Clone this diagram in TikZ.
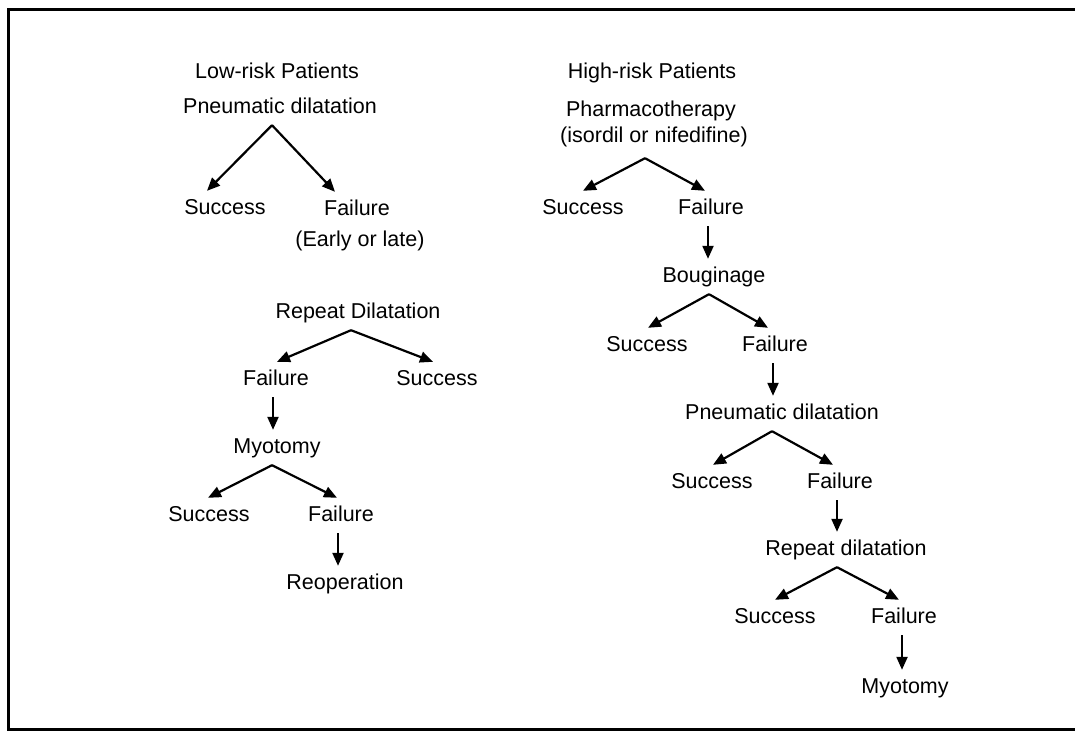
\documentclass[tikz,border=0pt]{standalone}
\usepackage{fontspec}
\setmainfont{Liberation Sans}
\usetikzlibrary{arrows.meta}
\tikzset{
  lbl/.style={anchor=base, inner xsep=0pt, inner ysep=8pt, text height=15pt, text depth=4pt,
    font=\fontsize{21.5}{24}\selectfont},
  arr/.style={line width=2.2pt, -{Triangle[length=13pt,width=11pt]}},
  frame/.style={line width=3pt}
}
\begin{document}
\begin{tikzpicture}[x=1pt,y=-1pt]
\useasboundingbox (0,0) rectangle (1075,731);
\draw[frame] (1075,9) -- (8,9) -- (8,729) -- (1075,729);

% Low-risk tree
\node[lbl] (lrp) at (277,78) {Low-risk Patients};
\node[lbl] (lpd) at (280,113) {Pneumatic dilatation};
\node[lbl] (ls1) at (225,214) {Success};
\node[lbl] (lf1) at (357,215) {Failure};
\node[lbl] (lel) at (360,246) {(Early or late)};
\node[lbl] (lrd) at (358,318) {Repeat Dilatation};
\node[lbl] (lf2) at (276,385) {Failure};
\node[lbl] (ls2) at (437,385) {Success};
\node[lbl] (lmy) at (277,453) {Myotomy};
\node[lbl] (ls3) at (209,521) {Success};
\node[lbl] (lf3) at (341,521) {Failure};
\node[lbl] (lre) at (345,589) {Reoperation};

\draw[arr] ([xshift=-8pt]lpd.south) -- ([xshift=-18pt]ls1.north);
\draw[arr] ([xshift=-8pt]lpd.south) -- ([xshift=-22pt]lf1.north);
\draw[arr] ([xshift=-7pt]lrd.south) -- ([xshift=1pt]lf2.north);
\draw[arr] ([xshift=-7pt]lrd.south) -- ([xshift=-4pt]ls2.north);
\draw[arr] ([xshift=-3pt]lf2.south) -- ([xshift=-3pt]lf2.south |- lmy.north);
\draw[arr] ([xshift=-5pt]lmy.south) -- ([xshift=-1pt]ls3.north);
\draw[arr] ([xshift=-5pt]lmy.south) -- ([xshift=-4pt]lf3.north);
\draw[arr] ([xshift=-3pt]lf3.south) -- ([xshift=-3pt]lf3.south |- lre.north);

% High-risk tree
\node[lbl] (hrp) at (652,78) {High-risk Patients};
\node[lbl] (hph) at (651,116) {Pharmacotherapy};
\node[lbl] (his) at (654,142) {(isordil or nifedifine)};
\node[lbl] (hs1) at (583,214) {Success};
\node[lbl] (hf1) at (711,214) {Failure};
\node[lbl] (hbo) at (714,282) {Bouginage};
\node[lbl] (hs2) at (647,351) {Success};
\node[lbl] (hf2) at (775,351) {Failure};
\node[lbl] (hpd) at (782,419) {Pneumatic dilatation};
\node[lbl] (hs3) at (712,488) {Success};
\node[lbl] (hf3) at (840,488) {Failure};
\node[lbl] (hrd) at (846,555) {Repeat dilatation};
\node[lbl] (hs4) at (775,623) {Success};
\node[lbl] (hf4) at (904,623) {Failure};
\node[lbl] (hmy) at (905,693) {Myotomy};

\draw[arr] ([xshift=-9pt,yshift=-4pt]his.south) -- (hs1.north);
\draw[arr] ([xshift=-9pt,yshift=-4pt]his.south) -- ([xshift=-6pt]hf1.north);
\draw[arr] ([xshift=-3pt]hf1.south) -- ([xshift=-3pt]hf1.south |- hbo.north);
\draw[arr] ([xshift=-5pt]hbo.south) -- ([xshift=1pt]hs2.north);
\draw[arr] ([xshift=-5pt]hbo.south) -- ([xshift=-7pt]hf2.north);
\draw[arr] ([xshift=-2pt]hf2.south) -- ([xshift=-2pt]hf2.south |- hpd.north);
\draw[arr] ([xshift=-10pt]hpd.south) -- ([xshift=1pt]hs3.north);
\draw[arr] ([xshift=-10pt]hpd.south) -- ([xshift=-7pt]hf3.north);
\draw[arr] ([xshift=-3pt]hf3.south) -- ([xshift=-3pt]hf3.south |- hrd.north);
\draw[arr] ([xshift=-9pt]hrd.south) -- (hs4.north);
\draw[arr] ([xshift=-9pt]hrd.south) -- ([xshift=-5pt]hf4.north);
\draw[arr] ([xshift=-2pt]hf4.south) -- ([xshift=-2pt]hf4.south |- hmy.north);
\end{tikzpicture}
\end{document}
